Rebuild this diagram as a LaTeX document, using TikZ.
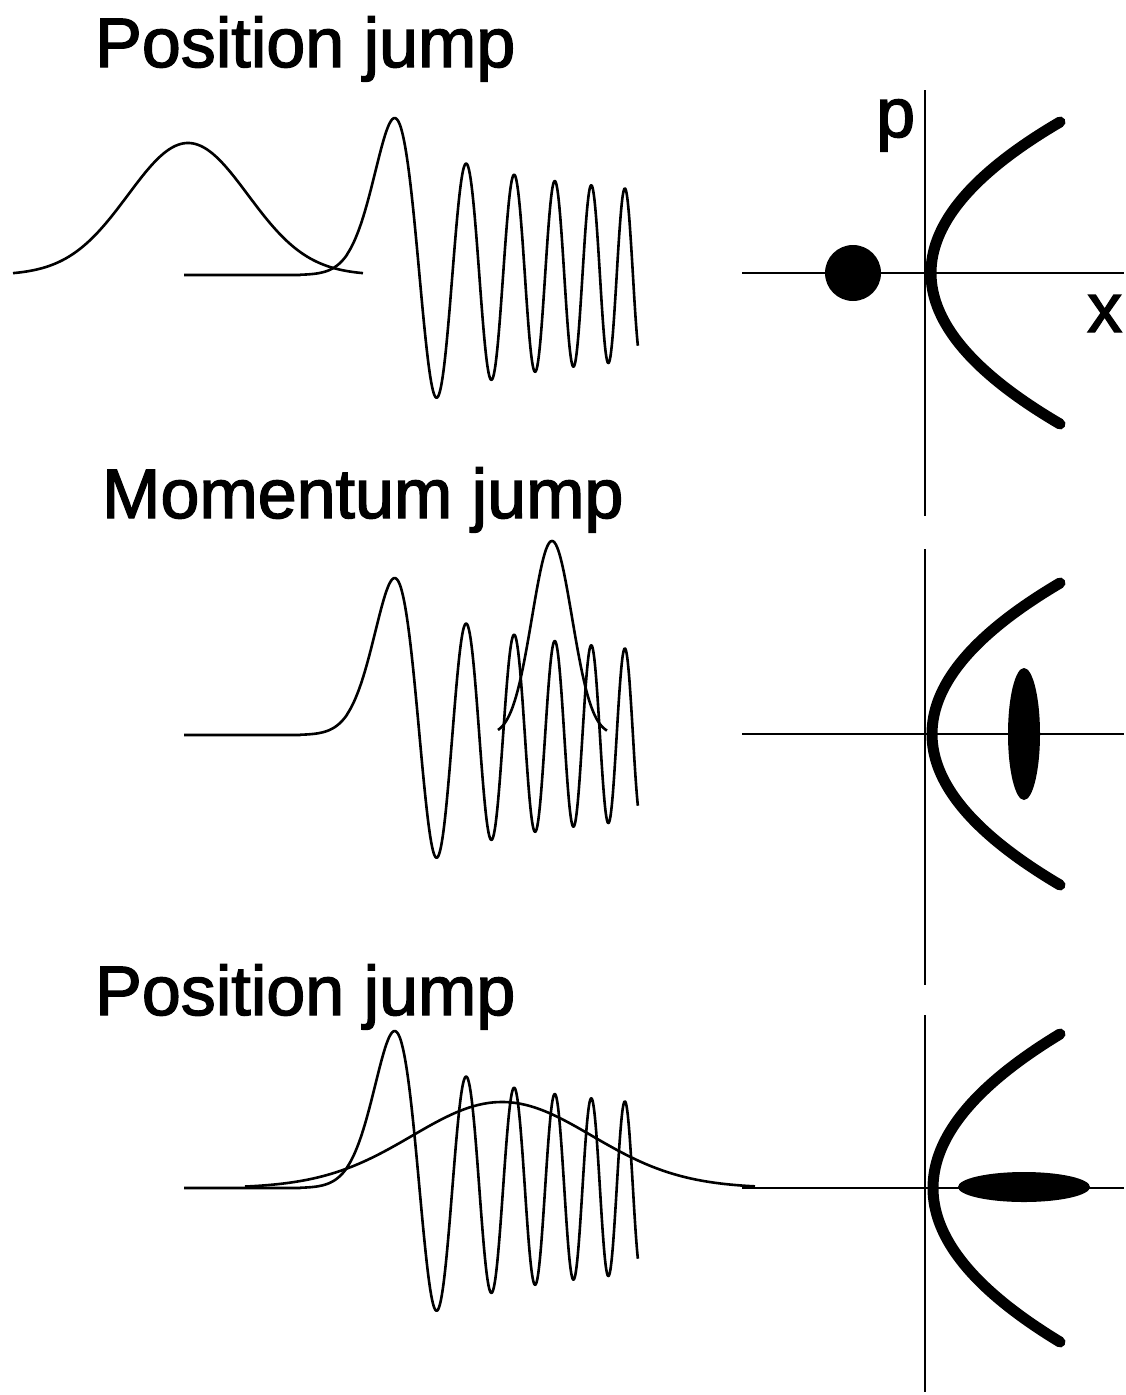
\documentclass[tikz,border=0pt]{standalone}
\usepackage{fontspec}
\setmainfont{Liberation Sans}
\newfontfamily\heavyfont{Liberation Sans}[FakeBold=2]
\tikzset{
  wave/.style={line width=2.6pt, line join=round},
  axisline/.style={line width=2.2pt},
  traj/.style={line width=11pt, line cap=round},
  bigtext/.style={font=\heavyfont\fontsize{70}{84}\selectfont, inner sep=0pt, anchor=base west},
  declare function={
    aiD(\a)=exp(-2/3*\a^1.5)/(3.5449077*\a^0.25)*(1-0.0694444/(2/3*\a^1.5));
    aiT(\a)=0.3550280*(1+(\a*\a*\a)/6*(1+(\a*\a*\a)/30*(1+(\a*\a*\a)/72*(1+(\a*\a*\a)/132*(1+(\a*\a*\a)/210*(1+(\a*\a*\a)/306*(1+(\a*\a*\a)/420)))))))-0.2588194*\a*(1+(\a*\a*\a)/12*(1+(\a*\a*\a)/42*(1+(\a*\a*\a)/90*(1+(\a*\a*\a)/156*(1+(\a*\a*\a)/240*(1+(\a*\a*\a)/342*(1+(\a*\a*\a)/462)))))));
    aiO(\a)=0.5641896/(\a^0.25)*(cos(deg(2/3*\a^1.5-0.7853982))*(1-0.0371335/((2/3*\a^1.5)^2))+sin(deg(2/3*\a^1.5-0.7853982))*0.0694444/(2/3*\a^1.5));
  }
}
% Airy wave Ai(-z) with baseline #1, z=0 at x=375.5, 18.8 px per unit
\newcommand{\drawairywave}[1]{%
  \draw[wave] (184,#1) -- (300.3,#1)
    -- plot[domain=4:1.5, samples=30, variable=\t] ({375.5-18.8*\t},{#1-293*aiD(\t)})
    -- plot[domain=1.5:-2.6, samples=90, variable=\t] ({375.5-18.8*\t},{#1-293*aiT(\t)})
    -- plot[domain=2.6:13.96, samples=360, variable=\t] ({375.5+18.8*\t},{#1-293*aiO(\t)});
}
\begin{document}
\begin{tikzpicture}[x=1pt,y=-1pt]
\useasboundingbox (0,0) rectangle (1126,1395);

% ---------- Row 1 ----------
\node[bigtext] (t1) at (95,67) {Position jump};
\draw[wave] plot[domain=13:363, samples=120, variable=\u] (\u,{275-132*exp(-((\u-188)/60)*((\u-188)/60)/2)});
\drawairywave{275}

\coordinate (h1a) at (742,273);
\coordinate (h1b) at (1124,273);
\coordinate (v1a) at (925,90);
\coordinate (v1b) at (925,516);
\draw[axisline] (h1a) -- (h1b);
\draw[axisline] (v1a) -- (v1b);
\node[bigtext] (plabel) at (876,137) {p};
\node[bigtext] (xlabel) at (1087,332) {x};
\fill (853,273) circle [radius=28];
\draw[traj] plot[domain=-151:151, samples=80, variable=\p] ({931+129*(\p/151)*(\p/151)},{273+\p});

% ---------- Row 2 ----------
\node[bigtext] (t2) at (102,518) {Momentum jump};
\drawairywave{735}
\draw[wave] plot[domain=498:607, samples=80, variable=\u] (\u,{735-194*exp(-((\u-552)/20)*((\u-552)/20)/2)});

\coordinate (h2a) at (742,734);
\coordinate (h2b) at (1124,734);
\coordinate (v2a) at (925,549);
\coordinate (v2b) at (925,985);
\draw[axisline] (h2a) -- (h2b);
\draw[axisline] (v2a) -- (v2b);
\draw[traj] plot[domain=-151:151, samples=80, variable=\p] ({932+128*(\p/151)*(\p/151)},{734+\p});
\fill (1024,734) ellipse [x radius=16, y radius=66];

% ---------- Row 3 ----------
\node[bigtext] (t3) at (95,1015) {Position jump};
\drawairywave{1188}
\draw[wave] plot[domain=245:755, samples=150, variable=\u] (\u,{1188-86*exp(-((\u-502)/90)*((\u-502)/90)/2)});

\coordinate (h3a) at (742,1188);
\coordinate (h3b) at (1124,1188);
\coordinate (v3a) at (925,1015);
\coordinate (v3b) at (925,1392);
\draw[axisline] (h3a) -- (h3b);
\draw[axisline] (v3a) -- (v3b);
\draw[traj] plot[domain=-154:154, samples=80, variable=\p] ({933+127*(\p/154)*(\p/154)},{1188+\p});
\fill (1024,1187) ellipse [x radius=66, y radius=15];
\end{tikzpicture}
\end{document}
